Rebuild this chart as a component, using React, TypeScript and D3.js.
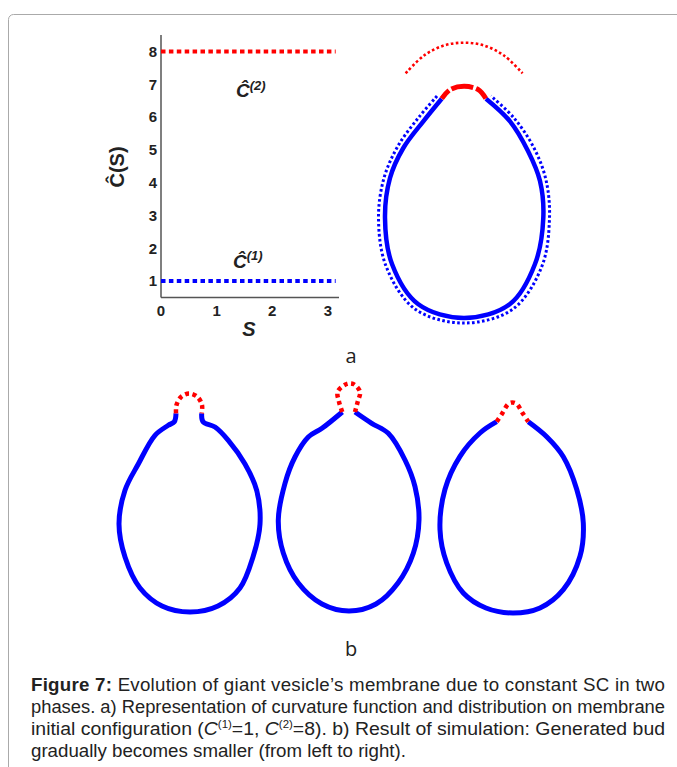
import React from 'react';
import * as d3 from 'd3';

// ---- panel a: curvature function ----
const sValues = [0, 3.14];
const cLow = [1, 1];
const cHigh = [8, 8];
const yTicks = [1, 2, 3, 4, 5, 6, 7, 8];
const xTicks = [0, 1, 2, 3];

type P = [number, number];

// ---- panel a: initial membrane (x right, y up from bottom) ----
const aMembrane: P[] = [
  [-22.3, 219.3], [-40.7, 196.7], [-60.7, 170], [-74, 140], [-79, 100], [-72, 54],
  [-46, 14], [0, 0], [46, 14], [71, 54], [79.3, 100], [76, 137], [64, 167],
  [46, 196.7], [22, 219.3],
];
const aCap: P[] = [[-22.3, 219.3], [-14, 228.3], [0, 231.7], [14.3, 228.3], [22, 219.3]];
const aOuter: P[] = [
  [-27, 222], [-45, 201], [-66, 172], [-80, 140], [-85.5, 100], [-78, 52], [-49, 9],
  [0, -5], [49, 9], [78, 52], [85.5, 100], [82, 138], [70, 170], [50, 200], [27, 222],
];
const aCurvature: P[] = [
  [-58.3, 244.7], [-40, 262.5], [-20, 272.5], [0, 275.3], [20, 272.5], [40, 262.5], [58.5, 244.7],
];

// ---- panel b: three simulated shapes ----
const b1Membrane: P[] = [
  [-14, 198.7], [-15.7, 190.3], [-21.7, 186.7], [-35, 176.7], [-51.7, 148], [-65, 121.7],
  [-71, 88], [-65, 55], [-50, 24], [-28, 6], [0, 0], [28, 6], [50, 24], [63, 55], [70, 88],
  [66.7, 121.7], [55, 148], [38.3, 171.7], [25, 185], [13, 190.3], [11.7, 198.7],
];
const b1Bud: P[] = [[-14, 198.7], [-13.5, 207], [-9, 215], [-1, 218.5], [7.5, 215], [12, 207], [11.7, 198.7]];

const b2Membrane: P[] = [
  [-6.7, 199], [-27, 182.7], [-40.7, 174], [-54, 154], [-64, 127.7], [-70.7, 91], [-65.7, 58],
  [-50.7, 28], [-27, 7], [0, 0], [27, 7], [49, 28], [64.3, 57.7], [70, 91], [66, 124.3],
  [56, 151], [39.3, 177.7], [22.7, 187.7], [6, 199],
];
const b2Bud: P[] = [
  [-6.7, 199], [-10, 209.3], [-11.3, 219.3], [-2.3, 227], [4.3, 227], [11, 219.3], [8.7, 209.3], [6, 199],
];

const b3Membrane: P[] = [
  [-16.3, 191.3], [-33, 180], [-53, 156.7], [-68, 123.7], [-73, 83.3], [-66.3, 50], [-49.7, 20],
  [-27, 5], [0, 0], [27, 5], [50.3, 23.3], [67, 56.7], [70.3, 90], [63.7, 123.7], [50.3, 156.3],
  [33.7, 176.3], [15.3, 191.3],
];
const b3Bud: P[] = [[-16.3, 191.3], [-10.5, 200], [-4.7, 209], [-0.5, 210.5], [3.7, 209], [9.5, 200], [15.3, 191.3]];

const BLUE = '#0000ff';
const RED = '#ff0000';

function shape(pts: P[], cx: number, by: number) {
  const sx = d3.scaleLinear().domain([0, 100]).range([cx, cx + 100]);
  const sy = d3.scaleLinear().domain([0, 100]).range([by, by - 100]);
  return d3
    .line<P>()
    .x((d) => sx(d[0]))
    .y((d) => sy(d[1]))
    .curve(d3.curveCatmullRom.alpha(0.5))(pts) as string;
}

export default function App() {
  const x = d3.scaleLinear().domain([0, 3.2]).range([161, 339]);
  const y = d3.scaleLinear().domain([0.5, 8.5]).range([297.5, 35]);
  const hline = (vals: number[]) =>
    d3
      .line<number>()
      .x((_, i) => x(sValues[i]))
      .y((d) => y(d))(vals) as string;

  const axisFont = 'Liberation Sans, Arial, sans-serif';
  const capFont = 'Liberation Sans, Arial, sans-serif';
  const ink = '#222';

  return (
    <svg width={677} height={767} style={{ position: 'absolute', left: 0, top: 0, background: '#fff' }}>
      <rect x={8.5} y={14.5} width={720} height={800} rx={5} fill="#fff" stroke="#aaa" strokeWidth={1} />

      {/* ---- panel a plot ---- */}
      <line x1={x(0)} x2={x(0)} y1={y(8.5)} y2={y(0.5)} stroke="#555" strokeWidth={1.5} />
      <line x1={x(0)} x2={x(3.2)} y1={y(0.5)} y2={y(0.5)} stroke="#555" strokeWidth={1.5} />
      {yTicks.map((t) => (
        <text key={'y' + t} x={157} y={y(t) + 5.3} textAnchor="end" fontFamily={axisFont} fontWeight="bold" fontSize={15} fill={ink}>
          {t}
        </text>
      ))}
      {xTicks.map((t) => (
        <text key={'x' + t} x={x(t)} y={316} textAnchor="middle" fontFamily={axisFont} fontWeight="bold" fontSize={15} fill={ink}>
          {t}
        </text>
      ))}
      <text x={249} y={336} textAnchor="middle" fontFamily={axisFont} fontWeight="bold" fontStyle="italic" fontSize={20} fill={ink}>
        S
      </text>
      <g transform="translate(124,167) rotate(-90)">
        <text x={0} y={0} textAnchor="middle" fontFamily={axisFont} fontWeight="bold" fontSize={20} fill={ink}>
          Ĉ(S)
        </text>
      </g>

      <path d={hline(cHigh)} fill="none" stroke={RED} strokeWidth={4} strokeDasharray="4.5 3.4" />
      <path d={hline(cLow)} fill="none" stroke={BLUE} strokeWidth={4} strokeDasharray="4.5 3.4" />

      <text x={236} y={97} fontFamily={axisFont} fontWeight="bold" fontStyle="italic" fontSize={19} fill={ink}>
        Ĉ<tspan fontSize={13} dy={-7}>(2)</tspan>
      </text>
      <text x={233} y={268} fontFamily={axisFont} fontWeight="bold" fontStyle="italic" fontSize={19} fill={ink}>
        Ĉ<tspan fontSize={13} dy={-8}>(1)</tspan>
      </text>

      {/* ---- panel a membrane ---- */}
      <path d={shape(aCurvature, 464, 318)} fill="none" stroke={RED} strokeWidth={2.6} strokeDasharray="2.6 2.4" />
      <path d={shape(aOuter, 464, 318)} fill="none" stroke={BLUE} strokeWidth={3} strokeDasharray="2.6 2.4" />
      <path d={shape(aMembrane, 464, 318)} fill="none" stroke={BLUE} strokeWidth={4.5} />
      <path d={shape(aCap, 464, 318)} fill="none" stroke={RED} strokeWidth={5} strokeDasharray="11 3 22 3 14" />

      <text x={351} y={363} textAnchor="middle" fontFamily="Open Sans, sans-serif" fontSize={20} fill={ink}>a</text>

      {/* ---- panel b ---- */}
      <path d={shape(b1Membrane, 190, 612)} fill="none" stroke={BLUE} strokeWidth={5} />
      <path d={shape(b1Bud, 190, 612)} fill="none" stroke={RED} strokeWidth={4.5} strokeDasharray="4 3.5" />
      <path d={shape(b2Membrane, 349, 611)} fill="none" stroke={BLUE} strokeWidth={5} />
      <path d={shape(b2Bud, 349, 611)} fill="none" stroke={RED} strokeWidth={4.5} strokeDasharray="4 3.5" />
      <path d={shape(b3Membrane, 513, 613)} fill="none" stroke={BLUE} strokeWidth={5} />
      <path d={shape(b3Bud, 513, 613)} fill="none" stroke={RED} strokeWidth={4.5} strokeDasharray="4 4" />

      <text x={351} y={656} textAnchor="middle" fontFamily="Open Sans, sans-serif" fontSize={20} fill={ink}>b</text>

      {/* ---- caption ---- */}
      <text x={31} y={691} fontFamily={capFont} fontSize={18.7} fill={ink} textLength={634} lengthAdjust="spacing">
        <tspan fontWeight="bold">Figure 7:</tspan>
        <tspan> Evolution of giant vesicle’s membrane due to constant SC in two</tspan>
      </text>
      <text x={31} y={713} fontFamily={capFont} fontSize={18.7} fill={ink} textLength={634} lengthAdjust="spacingAndGlyphs">
        phases. a) Representation of curvature function and distribution on membrane
      </text>
      <text x={31} y={735} fontFamily={capFont} fontSize={18.7} fill={ink} textLength={634} lengthAdjust="spacingAndGlyphs">
        <tspan>initial configuration (</tspan>
        <tspan fontStyle="italic">C</tspan>
        <tspan fontSize={11} dy={-7}>(1)</tspan>
        <tspan dy={7}>=1, </tspan>
        <tspan fontStyle="italic">C</tspan>
        <tspan fontSize={11} dy={-7}>(2)</tspan>
        <tspan dy={7}>=8). b) Result of simulation: Generated bud</tspan>
      </text>
      <text x={31} y={757} fontFamily={capFont} fontSize={18.7} fill={ink}>
        gradually becomes smaller (from left to right).
      </text>
    </svg>
  );
}
